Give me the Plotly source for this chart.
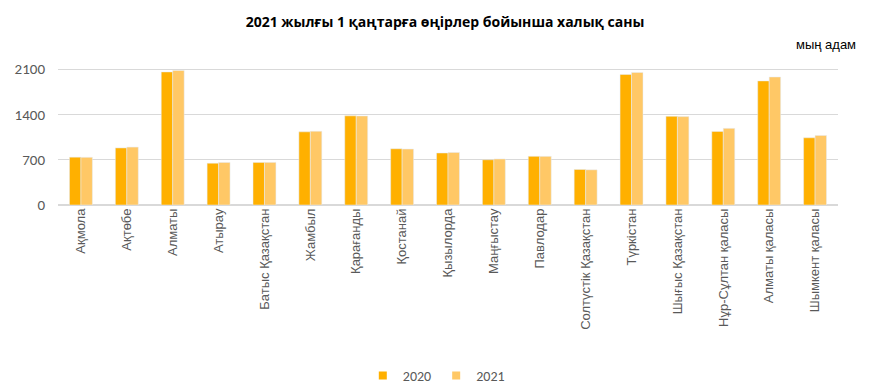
import plotly.graph_objects as go

regions = ["Ақмола", "Ақтөбе", "Алматы", "Атырау", "Батыс Қазақстан", "Жамбыл",
           "Қарағанды", "Қостанай", "Қызылорда", "Маңғыстау", "Павлодар",
           "Солтүстік Қазақстан", "Түркістан", "Шығыс Қазақстан",
           "Нұр-Сұлтан қаласы", "Алматы қаласы", "Шымкент қаласы"]
pop_2020 = [738.6, 881.7, 2055.7, 645.3, 657.3, 1130.1, 1376.9, 868.5, 803.5,
            698.8, 752.2, 548.8, 2016.0, 1369.6, 1136.0, 1916.8, 1038.2]
pop_2021 = [736.7, 894.8, 2077.6, 657.1, 658.5, 1139.4, 1375.9, 864.6, 811.6,
            711.4, 751.8, 543.7, 2048.2, 1365.4, 1184.5, 1977.3, 1074.2]
y_ticks = [0, 700, 1400, 2100]
series = [("2020", pop_2020, "#FFB000"), ("2021", pop_2021, "#FFC866")]

fig = go.Figure()
for name, vals, col in series:
    fig.add_trace(go.Bar(name=name, x=regions, y=vals, marker_color=col,
                         showlegend=False))
for name, vals, col in series:
    fig.add_trace(go.Scatter(name=name, x=[None], y=[None], mode="markers",
                             marker=dict(symbol="square", size=8, color=col),
                             showlegend=True))

fig.update_layout(
    width=865, height=383,
    margin=dict(l=50, r=35, t=52, b=186, autoexpand=False),
    paper_bgcolor="white", plot_bgcolor="white",
    barmode="group", bargap=0.5, bargroupgap=0,
    font=dict(family="Liberation Sans, Arial, sans-serif", color="#595959", size=13),
    title=dict(text="<b>2021 жылғы 1 қаңтарға өңірлер бойынша халық саны</b>",
               x=437/865, xanchor="center", y=1 - 14/383, yanchor="middle",
               font=dict(size=14, color="black", family="Open Sans, sans-serif")),
    legend=dict(orientation="h", x=0.485, xanchor="center",
                yref="container", y=1 - 368/383, yanchor="middle",
                font=dict(size=14, color="#595959", family="Carlito, Liberation Sans, sans-serif"),
                itemwidth=30, traceorder="normal", tracegroupgap=0),
    showlegend=True,
)
fig.update_yaxes(range=[0, 2240], tickvals=y_ticks, showgrid=True, gridcolor="#D9D9D9",
                 gridwidth=1, zeroline=True, zerolinecolor="#D9D9D9", ticks="",
                 automargin=False, ticklabelstandoff=12,
                 tickfont=dict(size=15, color="#595959", family="Carlito, Liberation Sans, sans-serif"))
fig.update_xaxes(tickangle=-90, showline=False, ticks="", range=[-0.5, 16.5],
                 automargin=False, tickfont=dict(size=13, color="#595959"))
fig.add_annotation(text="мың адам", xref="paper", yref="paper", x=1.0256, y=1.11,
                   xanchor="right", yanchor="middle", showarrow=False,
                   font=dict(size=13, color="black"))

fig.write_html("out.html")
